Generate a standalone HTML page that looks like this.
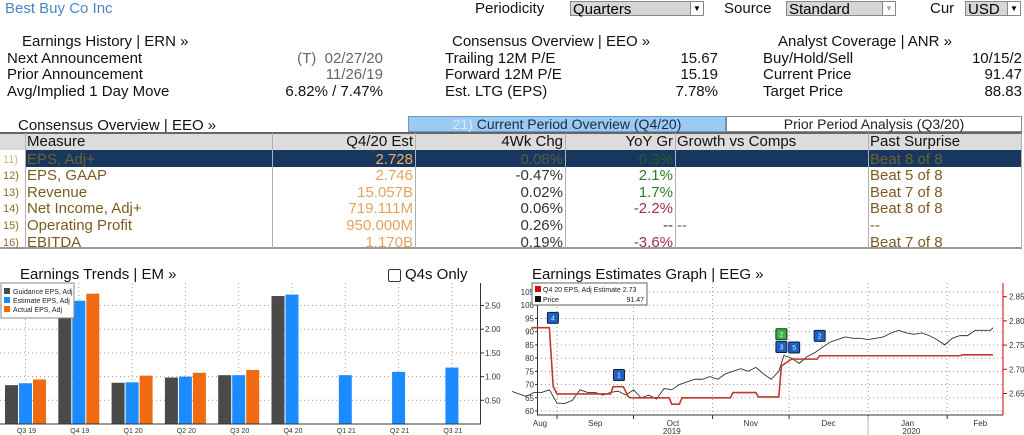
<!DOCTYPE html>
<html><head><meta charset="utf-8">
<style>
body{margin:0;width:1024px;height:435px;background:#fff;overflow:hidden;font-family:"Liberation Sans",sans-serif;position:relative}
.t{position:absolute;white-space:nowrap;font-size:15px;line-height:17px;color:#111}
.r{text-align:right}
.dd{position:absolute;height:15px;background:#d6d6d6;border:1px solid #888;font-size:15px;line-height:15px;padding-left:2px;box-sizing:border-box}
.dd b{position:absolute;right:0;top:0;width:12px;height:13px;background:#fff;border-left:1px solid #888;font-size:8px;text-align:center;line-height:13px;font-weight:normal}
.cell{position:absolute;font-size:15px;line-height:16px;white-space:nowrap;box-sizing:border-box;padding:0 2px}
.vl{position:absolute;width:1px;background:#b0b0b0}
</style></head><body>
<div class="t" style="left:5px;top:0px;color:#4a86c5;font-size:15px">Best Buy Co Inc</div>
<div class="t" style="left:475px;top:0px">Periodicity</div>
<div class="dd" style="left:570px;top:1px;width:134px">Quarters<b>▼</b></div>
<div class="t" style="left:724px;top:0px">Source</div>
<div class="dd" style="left:786px;top:1px;width:110px">Standard<b style="color:#aaa">▼</b></div>
<div class="t" style="left:930px;top:0px">Cur</div>
<div class="dd" style="left:965px;top:1px;width:56px">USD<b>▼</b></div>

<div class="t" style="left:22px;top:33px">Earnings History | ERN »</div>
<div class="t" style="left:452px;top:33px">Consensus Overview | EEO »</div>
<div class="t" style="left:778px;top:33px">Analyst Coverage | ANR »</div>

<div class="t" style="left:7px;top:50px">Next Announcement</div>
<div class="t r" style="right:641px;top:50px;color:#666">(T)&nbsp; 02/27/20</div>
<div class="t" style="left:7px;top:66px">Prior Announcement</div>
<div class="t r" style="right:641px;top:66px;color:#666">11/26/19</div>
<div class="t" style="left:7px;top:83px">Avg/Implied 1 Day Move</div>
<div class="t r" style="right:641px;top:83px">6.82% / 7.47%</div>

<div class="t" style="left:445px;top:50px">Trailing 12M P/E</div>
<div class="t r" style="right:306px;top:50px">15.67</div>
<div class="t" style="left:445px;top:66px">Forward 12M P/E</div>
<div class="t r" style="right:306px;top:66px">15.19</div>
<div class="t" style="left:445px;top:83px">Est. LTG (EPS)</div>
<div class="t r" style="right:306px;top:83px">7.78%</div>

<div class="t" style="left:763px;top:50px">Buy/Hold/Sell</div>
<div class="t r" style="right:2px;top:50px">10/15/2</div>
<div class="t" style="left:763px;top:66px">Current Price</div>
<div class="t r" style="right:2px;top:66px">91.47</div>
<div class="t" style="left:763px;top:83px">Target Price</div>
<div class="t r" style="right:2px;top:83px">88.83</div>

<div class="t" style="left:18px;top:117px">Consensus Overview | EEO »</div>
<div style="position:absolute;left:408px;top:116px;width:318px;height:16px;background:#9ccaf2;border:1px solid #6a9cc8;box-sizing:border-box;font-size:14px;line-height:14px;text-align:center;color:#1a2a40"><span style="color:#d8ecff">21)</span> Current Period Overview (Q4/20)</div>
<div style="position:absolute;left:726px;top:116px;width:296px;height:16px;background:#fff;border:1px solid #888;box-sizing:border-box;font-size:14px;line-height:14px;text-align:center;color:#222">Prior Period Analysis (Q3/20)</div>

<div style="position:absolute;left:0;top:132px;width:1022px;height:117px;border-top:2px solid #666;border-bottom:2px solid #999;box-sizing:border-box">
 <div style="position:absolute;left:0;top:0;width:1022px;height:16px;background:#dcdcdc"></div>
 <div style="position:absolute;left:25px;top:16px;width:997px;height:17px;background:#17375e"></div>
</div>
<div class="vl" style="left:25px;top:133px;height:115px"></div>
<div class="vl" style="left:272px;top:133px;height:115px"></div>
<div class="vl" style="left:415px;top:133px;height:115px"></div>
<div class="vl" style="left:565px;top:133px;height:115px"></div>
<div class="vl" style="left:675px;top:133px;height:115px"></div>
<div class="vl" style="left:868px;top:133px;height:115px"></div>
<div class="vl" style="left:1021px;top:133px;height:115px"></div>
<div id="tbl"></div>

<div class="t" style="left:20px;top:266px">Earnings Trends | EM »</div>
<div style="position:absolute;left:388px;top:269px;width:11px;height:11px;border:1px solid #333;border-radius:2px"></div>
<div class="t" style="left:405px;top:266px">Q4s Only</div>
<div class="t" style="left:532px;top:266px">Earnings Estimates Graph | EEG »</div>

<svg id="bar" width="512" height="160" style="position:absolute;left:0;top:275px" font-family="Liberation Sans, sans-serif"></svg>
<svg id="eeg" width="512" height="160" style="position:absolute;left:512px;top:275px" font-family="Liberation Sans, sans-serif"></svg>

<script>
// ---------- table ----------
const rowIdx=["11)","12)","13)","14)","15)","16)"];
const rowMeasure=["EPS, Adj+","EPS, GAAP","Revenue","Net Income, Adj+","Operating Profit","EBITDA"];
const rowEst=["2.728","2.746","15.057B","719.111M","950.000M","1.170B"];
const row4wk=["0.08%","-0.47%","0.02%","0.06%","0.26%","0.19%"];
const rowYoy=["0.3%","2.1%","1.7%","-2.2%","--","-3.6%"];
const rowGrowth=["","","","","--",""];
const rowPast=["Beat 8 of 8","Beat 5 of 8","Beat 7 of 8","Beat 8 of 8","--","Beat 7 of 8"];
const tbl=document.getElementById('tbl');
function cell(txt,l,w,top,color,align,name){
  const d=document.createElement('div');d.className='cell';
  
  
  d.style.left=l+'px';d.style.width=w+'px';d.style.top=top+'px';d.style.color=color;d.style.textAlign=align;d.textContent=txt;tbl.appendChild(d);return d;}
const hdr=[["Measure",25,247,"left"],["Q4/20 Est",272,143,"right"],["4Wk Chg",415,150,"right"],["YoY Gr",565,110,"right"],["Growth vs Comps",675,193,"left"],["Past Surprise",868,154,"left"]];
hdr.forEach(h=>cell(h[0],h[1],h[2],134,"#111",h[3],"header-"+h[0].toLowerCase().replace(/[^a-z0-9]+/g,'-')));
rowMeasure.forEach((m,i)=>{
  const top=151.5+i*16.6, sel=i===0;
  const ix=cell(rowIdx[i],0,26,top,sel?"#c9b98c":"#8a6d2c","left","row-index");ix.style.fontSize="11px";ix.style.padding="0 0 0 3px";
  cell(m,25,247,top,sel?"#6e6130":"#7a5c1e","left","row-measure");
  cell(rowEst[i],272,143,top,sel?"#f0b060":"#e3a45a","right","row-estimate");
  cell(row4wk[i],415,150,top,sel?"#5a5a40":"#333","right","row-4wk-change");
  const yc=rowYoy[i].startsWith('-')&&rowYoy[i]!=="--"?"#a0304a":(rowYoy[i]==="--"?"#333":"#2d7a2d");
  cell(rowYoy[i],565,110,top,sel?"#2c5a2c":yc,"right","row-yoy-growth");
  cell(rowGrowth[i],675,193,top,"#666","left","row-growth-vs-comps");
  cell(rowPast[i],868,154,top,sel?"#6e6130":"#7a5c1e","left","row-past-surprise");
});

// ---------- bar chart ----------
const barCats=["Q3 19","Q4 19","Q1 20","Q2 20","Q3 20","Q4 20","Q1 21","Q2 21","Q3 21"];
const guidance=[0.82,2.55,0.87,0.98,1.03,2.70,null,null,null];
const estimate=[0.86,2.60,0.88,1.00,1.03,2.73,1.03,1.10,1.19];
const actual=[0.94,2.75,1.02,1.08,1.14,null,null,null,null];
const barTicks=[0.5,1.0,1.5,2.0,2.5];
const NS="http://www.w3.org/2000/svg";
function el(svg,tag,attrs){const e=document.createElementNS(NS,tag);for(const k in attrs)e.setAttribute(k,attrs[k]);svg.appendChild(e);return e;}
const bs=document.getElementById('bar');
const by=v=>149-v*47.4, bx=i=>25.5+i*53.3;
barTicks.forEach(t=>{
  const g=el(bs,'line',{x1:0,x2:480,y1:by(t),y2:by(t),stroke:'#999','stroke-dasharray':'1,3'});
  
  const tk=el(bs,'line',{x1:480,x2:484,y1:by(t),y2:by(t),stroke:'#333'});
  const tx=el(bs,'text',{x:485,y:by(t)+3,'font-size':8,fill:'#333'});tx.textContent=t.toFixed(2);
  
});
barCats.forEach((c,i)=>{
  const g=el(bs,'line',{x1:bx(i),x2:bx(i),y1:8,y2:149,stroke:'#999','stroke-dasharray':'1,3'});
  
  const tx=el(bs,'text',{x:bx(i)+1,y:158,'font-size':7,fill:'#333','text-anchor':'middle'});tx.textContent=c;
  
  [[guidance,'#4a4a4a',-14,'bar-guidance'],[estimate,'#1a8cff',0,'bar-estimate'],[actual,'#f06a10',14,'bar-actual']].forEach(s=>{
    const v=s[0][i]; if(v==null)return;
    const r=el(bs,'rect',{x:bx(i)+s[2]-6.5,y:by(v),width:13,height:by(0)-by(v),fill:s[1]});
    
  });
});
el(bs,'line',{x1:0,x2:481,y1:149,y2:149,stroke:'#333'});
el(bs,'line',{x1:480.5,x2:480.5,y1:8,y2:149,stroke:'#333'});
const lg=el(bs,'rect',{x:1,y:8,width:73,height:35,fill:'#fff',stroke:'#888'});

[["Guidance EPS, Adj",'#4a4a4a'],["Estimate EPS, Adj",'#1a8cff'],["Actual EPS, Adj",'#f06a10']].forEach((l,k)=>{
  el(bs,'rect',{x:4,y:13+k*9,width:6,height:6,fill:l[1]});
  const t=el(bs,'text',{x:13,y:19+k*9,'font-size':7,fill:'#222'});t.textContent=l[0];
  
});

// ---------- EEG chart ----------
const priceDays=[-18,-15,-12,-9,-6,-3,0,3,6,9,12,15,18,21,24,27,30,33,36,39,42,45,48,51,54,57,60,63,66,69,72,75,78,81,84,87,89,92,95,98,101,104,107,110,113,116,119,122,125,128,131,134,137,140,143,146,149,152,155,158,161,164,167,170,171];
const priceVals=[67.5,66.5,65.5,67,67,68,63,62.8,64,68,67,67,66,67,67.5,66,68,65,66,64.5,68.5,68,70,71,72,72,73,72,74,75,76,75,76.5,74,72,75,81,80,78,80.5,82,84,86,87,88,87.5,87.5,87,87.5,88,89.5,90.5,89.5,89,89.5,88.5,87,85,87.5,88.5,88.5,90.5,90.5,90.5,91.5];
const estDays=[-10,-3,-1.5,0,21,22,26,28,29,44,45,48,49,68,69,78,79,87,88,92,102,103,158,159,171];
const estVals=[2.786,2.786,2.665,2.649,2.649,2.664,2.664,2.643,2.641,2.641,2.628,2.628,2.641,2.641,2.652,2.652,2.643,2.643,2.707,2.721,2.721,2.728,2.728,2.73,2.73];
const leftTicks=[60,65,70,75,80,85,90,95,100,105];
const rightTicks=[2.65,2.70,2.75,2.80,2.85];
const monthLabels=["Aug","Sep","Oct","Nov","Dec","Jan","Feb"];
const monthStarts=[-31,0,30,61,91,122,153];
const markerDays=[-1.6,24.3,88,88,93,103];
const markerVals=[95.2,73.6,89,84.2,84,88.4];
const markerText=["4","1","2","3","5","2"];
const markerColor=["#1f5fc8","#1f5fc8","#3cb43c","#1f5fc8","#1f5fc8","#1f5fc8"];
const es=document.getElementById('eeg');
const ex=d=>45+d*2.55, ely=v=>17+(105-v)*2.644, ery=v=>21.7+(2.85-v)*484;
leftTicks.forEach(t=>{
  const g=el(es,'line',{x1:25,x2:490,y1:ely(t),y2:ely(t),stroke:'#999','stroke-dasharray':'1,3'});
  
  const tx=el(es,'text',{x:22,y:ely(t)+3,'font-size':8,fill:'#333','text-anchor':'end'});tx.textContent=t;
  
  el(es,'line',{x1:23,x2:26,y1:ely(t),y2:ely(t),stroke:'#333'});
});
rightTicks.forEach(t=>{
  el(es,'line',{x1:491,x2:495,y1:ery(t),y2:ery(t),stroke:'#c00'});
  const tx=el(es,'text',{x:497,y:ery(t)+3,'font-size':8,fill:'#333'});tx.textContent=t.toFixed(2);
  
});
monthStarts.forEach((m,i)=>{
  if(i>0){const g=el(es,'line',{x1:ex(m),x2:ex(m),y1:8,y2:140,stroke:'#999','stroke-dasharray':'1,3'});
  
  el(es,'line',{x1:ex(m),x2:ex(m),y1:140,y2:144,stroke:'#333'});}
  const mid=i<6?(m+monthStarts[i+1])/2:m+13;
  const tx=el(es,'text',{x:Math.max(ex(mid),28),y:151,'font-size':8,fill:'#333','text-anchor':'middle'});tx.textContent=monthLabels[i];
  
});
el(es,'line',{x1:25,x2:491,y1:140,y2:140,stroke:'#333'});
el(es,'line',{x1:25.5,x2:25.5,y1:8,y2:140,stroke:'#333'});
el(es,'line',{x1:491,x2:491,y1:8,y2:140,stroke:'#c00'});
el(es,'line',{x1:ex(122),x2:ex(122),y1:141,y2:160,stroke:'#bbb'});
[["2019",45],["2020",139]].forEach(y=>{const t=el(es,'text',{x:ex(y[1]),y:159,'font-size':8,fill:'#333','text-anchor':'middle'});t.textContent=y[0];
  });
const pl=el(es,'polyline',{points:priceDays.map((d,i)=>ex(d)+','+ely(priceVals[i])).join(' '),fill:'none',stroke:'#333','stroke-width':0.9});

const el2=el(es,'polyline',{points:estDays.map((d,i)=>ex(d)+','+ery(estVals[i])).join(' '),fill:'none',stroke:'#c0392b','stroke-width':1.6});

markerDays.forEach((d,i)=>{
  const g=el(es,'rect',{x:ex(d)-5.5,y:ely(markerVals[i])-5.5,width:11,height:11,fill:markerColor[i],stroke:'#123',rx:1});
  
  const t=el(es,'text',{x:ex(d),y:ely(markerVals[i])+2.5,'font-size':7,fill:'#cfe','text-anchor':'middle'});t.textContent=markerText[i];
});
const lb=el(es,'rect',{x:20,y:8,width:115,height:22,fill:'#fff',stroke:'#666'});

el(es,'rect',{x:23,y:11,width:6,height:6,fill:'#d01010'});
el(es,'rect',{x:23,y:21,width:6,height:6,fill:'#111'});
const l1=el(es,'text',{x:31,y:17,'font-size':7,fill:'#222'});l1.textContent="Q4 20 EPS, Adj Estimate 2.73";

const l2=el(es,'text',{x:31,y:27,'font-size':7,fill:'#222'});l2.textContent="Price";

const l3=el(es,'text',{x:132,y:27,'font-size':7,fill:'#222','text-anchor':'end'});l3.textContent="91.47";
</script>
</body></html>
